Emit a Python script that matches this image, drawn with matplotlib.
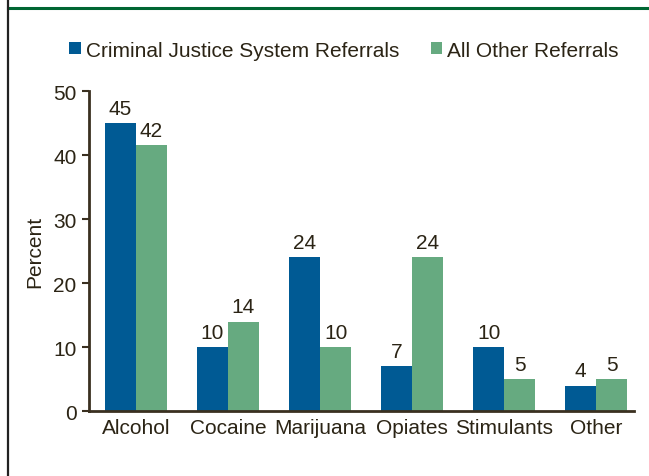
import matplotlib
matplotlib.use("Agg")
import matplotlib.pyplot as plt
import numpy as np
from matplotlib.lines import Line2D

categories = ["Alcohol", "Cocaine", "Marijuana", "Opiates", "Stimulants", "Other"]
criminal_justice = [45, 10, 24, 7, 10, 4]
all_other = [41.5, 14, 10, 24, 5, 5]
series_names = ["Criminal Justice System Referrals", "All Other Referrals"]
y_ticks = [0, 10, 20, 30, 40, 50]

BLUE = "#005A94"
GREEN = "#66AA80"
TEXT = "#2B2415"
AXIS = "#3A3020"
FS = 15

plt.rcParams["font.family"] = ["Liberation Sans", "DejaVu Sans"]

fig = plt.figure(figsize=(6.49, 4.77), dpi=100)
ax = fig.add_axes([0.137, 0.136, 0.840, 0.671])

x = np.arange(len(categories))
w = 0.337
b1 = ax.bar(x - w / 2, criminal_justice, w, color=BLUE, label=series_names[0])
b2 = ax.bar(x + w / 2, all_other, w, color=GREEN, label=series_names[1])
ax.bar_label(b1, fmt="%.0f", padding=4, fontsize=FS, color=TEXT)
ax.bar_label(b2, fmt="%.0f", padding=4, fontsize=FS, color=TEXT)

ax.set_xlim(-0.51, 5.41)
ax.set_ylim(0, 50)
ax.set_yticks(y_ticks)
ax.set_xticks(x)
ax.set_xticklabels(categories)
ax.tick_params(axis="x", length=0, labelsize=FS, labelcolor=TEXT, pad=5)
ax.tick_params(axis="y", length=5, width=1.5, color=AXIS, labelsize=FS, labelcolor=TEXT, direction="out", pad=4)
ax.set_ylabel("Percent", fontsize=FS, color=TEXT, labelpad=6)
for s in ["top", "right"]:
    ax.spines[s].set_visible(False)
for s in ["left", "bottom"]:
    ax.spines[s].set_color(AXIS)
    ax.spines[s].set_linewidth(2)

fig.legend(handles=[b1, b2], loc="center", bbox_to_anchor=(0.53, 0.893), ncol=2,
           frameon=False, fontsize=FS, handlelength=0.55, handleheight=0.55,
           handletextpad=0.25, columnspacing=1.5, labelcolor=TEXT)

# frame decorations
fig.add_artist(Line2D([0.012, 1.0], [1 - 9 / 477, 1 - 9 / 477], color="#006633", lw=2.2, transform=fig.transFigure))
fig.add_artist(Line2D([12 / 649 - 0.006, 12 / 649 - 0.006], [0, 1], color="#222222", lw=1.6, transform=fig.transFigure))

fig.savefig("out.png", dpi=100)
